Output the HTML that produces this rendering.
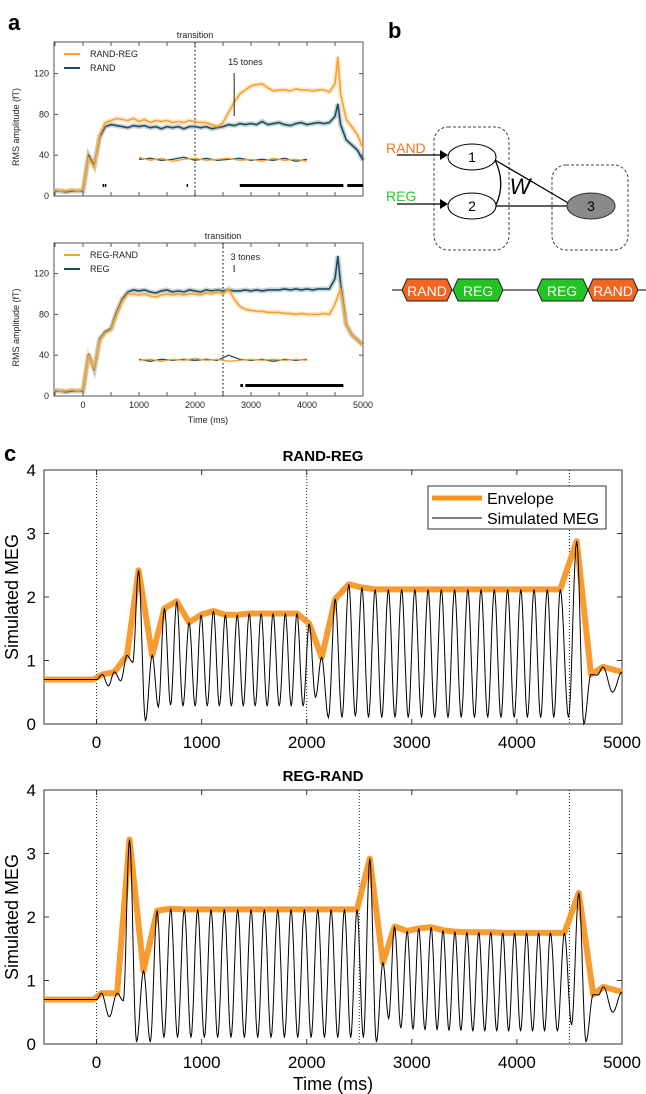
<!DOCTYPE html>
<html><head><meta charset="utf-8"><style>
body{margin:0;background:#fff}svg{display:block}
text{font-family:"Liberation Sans",sans-serif}
</style></head><body>
<svg id="fig" width="646" height="1094" viewBox="0 0 646 1094" xmlns="http://www.w3.org/2000/svg">
<text x="8" y="30" font-size="22" font-weight="bold">a</text>
<text x="388" y="38" font-size="22" font-weight="bold">b</text>
<text x="4" y="461" font-size="22" font-weight="bold">c</text>
<g id="pa1"></g>
<g id="pa2"></g>
<g id="pb">
 <rect x="434" y="127" width="75" height="123" rx="14" fill="none" stroke="#444" stroke-dasharray="3,2"/>
 <rect x="552" y="165" width="76" height="85" rx="14" fill="none" stroke="#444" stroke-dasharray="3,2"/>
 <text x="386" y="153" font-size="14" fill="#f47a20">RAND</text>
 <text x="386" y="201" font-size="14" fill="#2ccc2c">REG</text>
 <line x1="397" y1="155" x2="440" y2="155" stroke="#000" stroke-width="1.3"/><polygon points="440,150 448,155 440,160" fill="#000"/>
 <line x1="397" y1="204" x2="440" y2="204" stroke="#000" stroke-width="1.3"/><polygon points="440,199 448,204 440,209" fill="#000"/>
 <line x1="495" y1="160" x2="570" y2="204" stroke="#000" stroke-width="1.3"/>
 <line x1="496" y1="206" x2="570" y2="206" stroke="#000" stroke-width="1.3"/>
 <path d="M495,160 Q506,183 496,205" fill="none" stroke="#000" stroke-width="1.3"/>
 <ellipse cx="472" cy="157" rx="24" ry="13" fill="#fff" stroke="#000"/>
 <ellipse cx="472" cy="206" rx="24" ry="13" fill="#fff" stroke="#000"/>
 <ellipse cx="591" cy="206" rx="24" ry="13" fill="#8a8a8a" stroke="#333"/>
 <text x="472" y="162" font-size="14" text-anchor="middle">1</text>
 <text x="472" y="211" font-size="14" text-anchor="middle">2</text>
 <text x="591" y="211" font-size="14" text-anchor="middle">3</text>
 <text x="520" y="194" font-size="22" font-style="italic" text-anchor="middle">W</text>
 <line x1="392" y1="290" x2="646" y2="290" stroke="#000"/>
 <polygon points="402,290 407,279 447,279 452,290 447,301 407,301" fill="#f26522" stroke="#222"/>
 <polygon points="453,290 458,279 498,279 503,290 498,301 458,301" fill="#22c322" stroke="#222"/>
 <polygon points="537,290 542,279 583,279 588,290 583,301 542,301" fill="#22c322" stroke="#222"/>
 <polygon points="588,290 593,279 633,279 638,290 633,301 593,301" fill="#f26522" stroke="#222"/>
 <text x="427" y="296" font-size="14" fill="#fff" text-anchor="middle">RAND</text>
 <text x="478" y="296" font-size="14" fill="#fff" text-anchor="middle">REG</text>
 <text x="562" y="296" font-size="14" fill="#fff" text-anchor="middle">REG</text>
 <text x="613" y="296" font-size="14" fill="#fff" text-anchor="middle">RAND</text>
</g>
<g id="pc1"></g>
<g id="pc2"></g>
</svg>
<script>
// ---------- Panel a data (100 ms samples from -500 to 5000) ----------
const aTimes = [-500,-400,-300,-200,-100,0,100,200,300,400,500,600,700,800,900,1000,1100,1200,1300,1400,1500,1600,1700,1800,1900,2000,2100,2200,2300,2400,2500,2600,2700,2800,2900,3000,3100,3200,3300,3400,3500,3600,3700,3800,3900,4000,4100,4200,4300,4400,4500,4550,4600,4700,4800,4900,5000];
const randReg = [6,5,5,6,5,6,38,28,60,72,74,76,75,74,76,73,75,72,74,73,74,72,73,72,74,73,72,72,70,68,72,82,92,100,104,108,109,110,106,103,104,104,103,105,104,104,103,104,104,102,110,136,100,75,68,60,47];
const rand    = [5,5,4,5,5,5,40,30,58,68,70,69,68,67,69,68,69,67,68,66,68,67,68,66,68,68,67,68,66,67,68,70,69,71,70,71,70,73,70,71,72,70,69,71,72,70,71,72,71,72,78,90,70,55,50,45,35];
const regRand = [6,5,5,6,5,6,40,27,55,62,65,80,93,100,100,99,100,98,97,99,100,99,100,99,100,100,99,101,100,102,100,105,95,88,85,84,83,83,82,82,82,81,81,80,81,80,80,80,81,80,90,98,105,70,60,55,50];
const reg     = [5,5,4,5,5,5,41,26,56,63,66,82,95,102,104,103,104,102,101,103,104,102,103,102,104,103,102,104,103,104,103,104,103,103,104,103,104,103,104,104,104,105,104,105,104,105,104,105,105,105,115,137,110,70,60,55,50];
const diffT   = [1000,1200,1400,1600,1800,2000,2200,2400,2600,2800,3000,3200,3400,3600,3800,4000];
const diffA1  = [38,35,37,34,36,37,35,36,37,35,36,34,37,35,36,34];
const diffB1  = [36,37,35,36,38,35,37,35,36,37,35,36,35,37,34,36];
const diffA2  = [35,36,34,36,35,37,35,36,34,35,36,35,36,35,36,35];
const diffB2  = [36,34,36,35,36,35,36,35,40,36,35,36,34,36,35,36];
const yTicksA = [0,40,80,120];
const xTicksA = [0,1000,2000,3000,4000,5000];

// ---------- Panel c data ----------
const cXTicks = [0,1000,2000,3000,4000,5000];
const cYTicks = [0,1,2,3,4];
const baseV = 0.7;
const rrPeakT = [55,170,290,400,530,646,763,881,995,1112,1226,1339,1453,1566,1680,1797,1907,2024,2142,2271,2400,2525,2651,2777,2903,3029,3155,3281,3407,3533,3659,3785,3911,4037,4163,4289,4413,4569,4705,4820,5000];
const rrPeakV = [0.78,0.82,1.08,2.42,1.08,1.82,1.93,1.6,1.72,1.78,1.72,1.72,1.74,1.74,1.74,1.74,1.74,1.58,1.05,1.97,2.2,2.15,2.12,2.12,2.12,2.12,2.12,2.12,2.12,2.12,2.12,2.12,2.12,2.12,2.12,2.12,2.12,2.88,0.78,0.9,0.82];
const rrTroughV = [0.6,0.68,0.97,0.05,0.27,0.3,0.28,0.28,0.28,0.28,0.28,0.28,0.28,0.28,0.28,0.28,0.28,0.42,0.1,0.1,0.12,0.1,0.1,0.1,0.1,0.1,0.1,0.1,0.1,0.1,0.1,0.1,0.1,0.1,0.1,0.1,0.1,0.0,0.77,0.5];
const rrLines = [0,2000,4500];
const grPeakT = [47,196,314,447,576,706,835,962,1089,1216,1343,1470,1597,1724,1851,1978,2105,2232,2359,2478,2600,2725,2835,2956,3066,3184,3297,3410,3524,3637,3751,3865,3978,4092,4206,4319,4452,4589,4726,4824,5000];
const grPeakV = [0.8,0.8,3.22,1.15,2.1,2.13,2.12,2.12,2.12,2.12,2.12,2.12,2.12,2.12,2.12,2.12,2.12,2.12,2.12,2.12,2.92,1.28,1.85,1.78,1.82,1.84,1.79,1.77,1.76,1.76,1.76,1.75,1.75,1.75,1.75,1.75,1.75,2.38,0.78,0.9,0.82];
const grTroughV = [0.43,0.68,0.03,0.03,0.1,0.1,0.1,0.1,0.1,0.1,0.1,0.1,0.1,0.1,0.1,0.1,0.1,0.1,0.1,0.1,0.03,0.4,0.25,0.23,0.22,0.22,0.21,0.21,0.2,0.2,0.2,0.2,0.2,0.2,0.2,0.2,0.3,0.04,0.77,0.5];
const grLines = [0,2500,4500];

const NS = 'http://www.w3.org/2000/svg';
function mk(parent, tag, attrs){const e=document.createElementNS(NS,tag);for(const k in attrs)e.setAttribute(k,attrs[k]);parent.appendChild(e);return e;}

// ---------- Panel a ----------
function panelA(gid, top, y0, s1, s2, n1, n2, dA, dB, trans, tonesLabel, toneLineY, sigBars, sigDots, showX){
  const g = document.getElementById(gid);
  const L=54,R=363, x=t=>83+(t)*0.056, y=v=>y0-v*1.02;
  mk(g,'rect',{x:L,y:top,width:R-L,height:y0-top,fill:'#fff',stroke:'#555','stroke-width':1});
  for(const v of yTicksA){
    mk(g,'line',{x1:L,x2:L+4,y1:y(v),y2:y(v),stroke:'#555'});
    mk(g,'line',{x1:R,x2:R-4,y1:y(v),y2:y(v),stroke:'#555'});
    const t=mk(g,'text',{x:L-5,y:y(v)+3,'font-size':9,'text-anchor':'end',fill:'#222'});t.textContent=v;
    
    
  }
  for(let tt=-500;tt<=5000;tt+=500){
    mk(g,'line',{x1:x(tt),x2:x(tt),y1:y0,y2:y0-4,stroke:'#555'});
    mk(g,'line',{x1:x(tt),x2:x(tt),y1:top,y2:top+4,stroke:'#555'});
  }
  if(showX){for(const v of xTicksA){const t=mk(g,'text',{x:x(v),y:y0+12,'font-size':9,'text-anchor':'middle',fill:'#222'});t.textContent=v;
    
    }
    const xl=mk(g,'text',{x:208,y:y0+27,'font-size':9,'text-anchor':'middle',fill:'#222'});xl.textContent='Time (ms)';
    
    }
  const yl=mk(g,'text',{x:0,y:0,'font-size':9,'text-anchor':'middle',fill:'#222',transform:`translate(19,${(top+y0)/2+8}) rotate(-90)`});yl.textContent='RMS amplitude (fT)';
  
  
  mk(g,'line',{x1:x(trans),x2:x(trans),y1:top,y2:y0,stroke:'#222','stroke-dasharray':'1.5,2.5','stroke-width':1.2});
  const tr=mk(g,'text',{x:x(trans),y:top-4,'font-size':9,'text-anchor':'middle',fill:'#222'});tr.textContent='transition';
  
  
  const pts=(arr,ts)=>arr.map((v,i)=>x(ts[i]).toFixed(1)+','+y(v).toFixed(1)).join(' ');
  for(const [arr,col,nm] of [[s2,'#1d4e5f',n2],[s1,'#f7a22e',n1]]){
    mk(g,'polyline',{points:pts(arr,aTimes),fill:'none',stroke:col,'stroke-opacity':0.25,'stroke-width':5});
    const p=mk(g,'polyline',{points:pts(arr,aTimes),fill:'none',stroke:col,'stroke-width':1.6,'stroke-linejoin':'round'});
    
    
  }
  const d1=mk(g,'polyline',{points:pts(dB,diffT),fill:'none',stroke:'#1d4e5f','stroke-width':1.3});
  
  
  const d2=mk(g,'polyline',{points:pts(dA,diffT),fill:'none',stroke:'#f7a22e','stroke-width':1.3});
  
  
  for(const [a,b] of sigBars){const r=mk(g,'rect',{x:x(a),y:y0-12,width:x(b)-x(a),height:3,fill:'#000'});
    
    }
  for(const a of sigDots){mk(g,'rect',{x:x(a),y:y0-12,width:1.5,height:3,fill:'#000'});}
  const tl=mk(g,'text',{x:x(2900),y:tonesLabel[1],'font-size':9,'text-anchor':'middle',fill:'#222'});tl.textContent=tonesLabel[0];
  
  
  mk(g,'line',{x1:x(2700),x2:x(2700),y1:toneLineY[0],y2:toneLineY[1],stroke:'#444','stroke-width':1.2});
  mk(g,'line',{x1:64,x2:80,y1:top+12,y2:top+12,stroke:'#f7a22e','stroke-width':2});
  mk(g,'line',{x1:64,x2:80,y1:top+26,y2:top+26,stroke:'#1d4e5f','stroke-width':2});
  const l1=mk(g,'text',{x:90,y:top+15,'font-size':9,fill:'#222'});l1.textContent=n1;
  
  
  const l2=mk(g,'text',{x:90,y:top+29,'font-size':9,fill:'#222'});l2.textContent=n2;
  
  
}
panelA('pa1',42,196,randReg,rand,'RAND-REG','RAND',diffA1,diffB1,2000,['15 tones',65],[73,116],[[2800,4650],[4720,5000]],[350,390,1850],false);
panelA('pa2',243,396,regRand,reg,'REG-RAND','REG',diffA2,diffB2,2500,['3 tones',260],[265,272],[[2900,4650]],[2810,2830],true);

// ---------- Panel c ----------
function panelC(gid, top, y0, title, pT, pV, tV, lines, legend){
  const g=document.getElementById(gid);
  const L=44,R=622,x=t=>L+(t+500)*(R-L)/5500,y=v=>y0-v*(y0-top)/4;
  mk(g,'rect',{x:L,y:top,width:R-L,height:y0-top,fill:'#fff',stroke:'#333','stroke-width':1});
  const tt=mk(g,'text',{x:323,y:top-9,'font-size':15,'font-weight':'bold','text-anchor':'middle'});tt.textContent=title;
  
  
  for(const v of cYTicks){
    mk(g,'line',{x1:L,x2:L+5,y1:y(v),y2:y(v),stroke:'#333'});
    mk(g,'line',{x1:R,x2:R-5,y1:y(v),y2:y(v),stroke:'#333'});
    const t=mk(g,'text',{x:L-8,y:y(v)+6,'font-size':17,'text-anchor':'end'});t.textContent=v;
    
    
  }
  for(const v of cXTicks){
    mk(g,'line',{x1:x(v),x2:x(v),y1:y0,y2:y0-5,stroke:'#333'});
    mk(g,'line',{x1:x(v),x2:x(v),y1:top,y2:top+5,stroke:'#333'});
    const t=mk(g,'text',{x:x(v),y:y0+24,'font-size':17,'text-anchor':'middle'});t.textContent=v;
    
    
  }
  const yl=mk(g,'text',{x:0,y:0,'font-size':18,'text-anchor':'middle',transform:`translate(18,${(top+y0)/2}) rotate(-90)`});yl.textContent='Simulated MEG';
  
  
  if(!legend){const xl=mk(g,'text',{x:x(2250),y:y0+46,'font-size':18,'text-anchor':'middle'});xl.textContent='Time (ms)';
    
    }
  for(const t of lines){const l=mk(g,'line',{x1:x(t),x2:x(t),y1:top,y2:y0,stroke:'#222','stroke-dasharray':'1,2'});
    
    }
  let env=[[-500,baseV],[-30,baseV]];
  pT.forEach((t,i)=>env.push([t,pV[i]]));
  const ep=mk(g,'polyline',{points:env.map(p=>x(p[0]).toFixed(1)+','+y(p[1]).toFixed(1)).join(' '),fill:'none',stroke:'#f7941d','stroke-opacity':0.92,'stroke-width':6,'stroke-linejoin':'round'});
  
  
  let ext=[[-500,baseV],[0,baseV]];
  pT.forEach((t,i)=>{ext.push([t,pV[i]]); if(i<tV.length) ext.push([(t+pT[i+1])/2,tV[i]]);});
  let d='M'+x(ext[0][0])+','+y(ext[0][1]);
  for(let i=1;i<ext.length;i++){
    const [t0,v0]=ext[i-1],[t1,v1]=ext[i];
    for(let k=1;k<=8;k++){const f=k/8,s=(1-Math.cos(Math.PI*f))/2;
      d+=' L'+x(t0+(t1-t0)*f).toFixed(1)+','+y(v0+(v1-v0)*s).toFixed(1);}
  }
  const sp=mk(g,'path',{d:d,fill:'none',stroke:'#000','stroke-width':1});
  
  
  if(legend){
    const lg=mk(g,'rect',{x:428,y:486,width:178,height:43,fill:'#fff',stroke:'#333'});
    
    
    mk(g,'line',{x1:432,x2:482,y1:498,y2:498,stroke:'#f7941d','stroke-width':5});
    mk(g,'line',{x1:432,x2:482,y1:518,y2:518,stroke:'#000','stroke-width':1});
    const a=mk(g,'text',{x:487,y:504,'font-size':16});a.textContent='Envelope';
    
    
    const b=mk(g,'text',{x:487,y:524,'font-size':16});b.textContent='Simulated MEG';
    
    
  }
}
panelC('pc1',470,724,'RAND-REG',rrPeakT,rrPeakV,rrTroughV,rrLines,true);
panelC('pc2',790,1044,'REG-RAND',grPeakT,grPeakV,grTroughV,grLines,false);
</script>
</body></html>
